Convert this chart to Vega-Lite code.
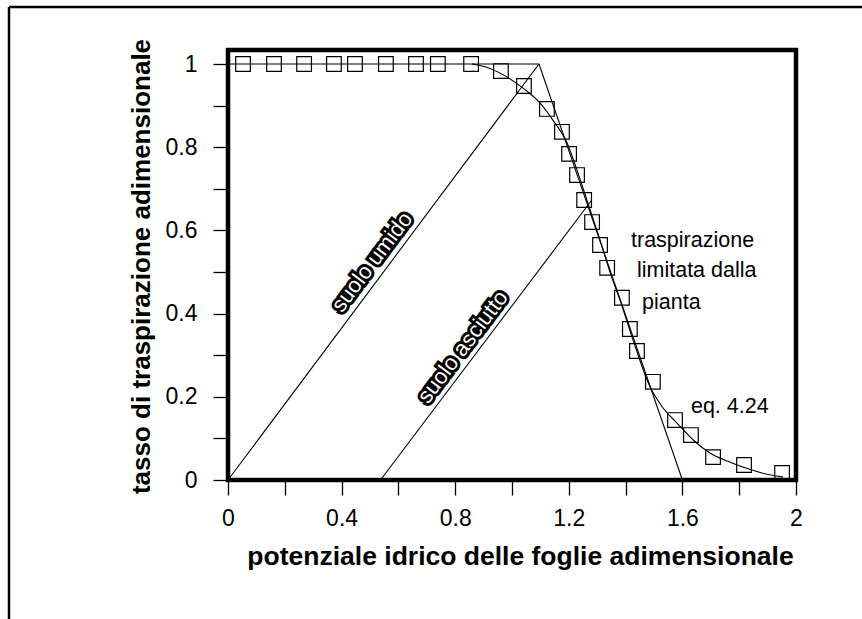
{
  "$schema": "https://vega.github.io/schema/vega-lite/v6.json",
  "width": 862,
  "height": 619,
  "autosize": "none",
  "padding": 0,
  "background": "white",
  "config": {"view": {"stroke": null}, "font": "Liberation Sans"},
  "datasets": {
    "border": [
      {"x": -0.7711, "y": 1.137, "x2": 2.4, "y2": 1.137},
      {"x": -0.7711, "y": 1.137, "x2": -0.7711, "y2": -0.5}
    ],
    "frame": [{"x": 0, "x2": 2, "y": 0, "y2": 1.0337}],
    "segments": [
      {"x": 0, "y": 1, "x2": 1.095, "y2": 1},
      {"x": 1.095, "y": 1, "x2": 1.6, "y2": 0},
      {"x": 0, "y": 0, "x2": 1.095, "y2": 1},
      {"x": 0.537, "y": 0, "x2": 1.281, "y2": 0.673}
    ],
    "curve": [
      {"x": 0.859, "y": 1.0},
      {"x": 0.92, "y": 0.99},
      {"x": 0.982, "y": 0.969},
      {"x": 1.039, "y": 0.942},
      {"x": 1.099, "y": 0.906},
      {"x": 1.144, "y": 0.865},
      {"x": 1.194, "y": 0.81},
      {"x": 1.229, "y": 0.745},
      {"x": 1.27, "y": 0.66},
      {"x": 1.31, "y": 0.577},
      {"x": 1.345, "y": 0.5},
      {"x": 1.38, "y": 0.433},
      {"x": 1.426, "y": 0.337},
      {"x": 1.486, "y": 0.224},
      {"x": 1.53, "y": 0.175},
      {"x": 1.581, "y": 0.137},
      {"x": 1.64, "y": 0.095},
      {"x": 1.697, "y": 0.065},
      {"x": 1.76, "y": 0.045},
      {"x": 1.813, "y": 0.031},
      {"x": 1.88, "y": 0.017},
      {"x": 1.954, "y": 0.007}
    ],
    "points": [
      {"x": 0.053, "y": 1.0},
      {"x": 0.162, "y": 1.0},
      {"x": 0.268, "y": 1.0},
      {"x": 0.373, "y": 1.0},
      {"x": 0.447, "y": 1.0},
      {"x": 0.556, "y": 1.0},
      {"x": 0.662, "y": 1.0},
      {"x": 0.739, "y": 1.0},
      {"x": 0.856, "y": 1.0},
      {"x": 0.961, "y": 0.983},
      {"x": 1.042, "y": 0.947},
      {"x": 1.123, "y": 0.892},
      {"x": 1.176, "y": 0.837},
      {"x": 1.201, "y": 0.784},
      {"x": 1.229, "y": 0.733},
      {"x": 1.254, "y": 0.673},
      {"x": 1.282, "y": 0.62},
      {"x": 1.31, "y": 0.565},
      {"x": 1.335, "y": 0.51},
      {"x": 1.387, "y": 0.438},
      {"x": 1.415, "y": 0.363},
      {"x": 1.44, "y": 0.31},
      {"x": 1.496, "y": 0.236},
      {"x": 1.574, "y": 0.144},
      {"x": 1.63, "y": 0.108},
      {"x": 1.708, "y": 0.055},
      {"x": 1.817, "y": 0.036},
      {"x": 1.951, "y": 0.017}
    ],
    "notes": [
      {"x": 1.419, "y": 0.56, "text": "traspirazione"},
      {"x": 1.44, "y": 0.488, "text": "limitata dalla"},
      {"x": 1.458, "y": 0.411, "text": "pianta"},
      {"x": 1.63, "y": 0.161, "text": "eq. 4.24"}
    ],
    "soil": [
      {"x": 0.507, "y": 0.524, "text": "suolo umido"},
      {"x": 0.827, "y": 0.32, "text": "suolo asciutto"}
    ]
  },
  "encoding": {
    "x": {
      "field": "x",
      "type": "quantitative",
      "scale": {"domain": [-0.80282, 2.23239], "nice": false, "zero": false},
      "axis": {
        "orient": "bottom",
        "offset": -139,
        "values": [0, 0.2, 0.4, 0.6, 0.8, 1, 1.2, 1.4, 1.6, 1.8, 2],
        "format": ".1~f",
        "labelExpr": "indexof(['0','0.4','0.8','1.2','1.6','2'], datum.label) >= 0 ? datum.label : ''",
        "domain": false,
        "grid": false,
        "tickSize": 15,
        "tickColor": "black",
        "tickWidth": 1.3,
        "labelFont": "Liberation Sans",
        "labelFontSize": 23,
        "labelColor": "black",
        "labelPadding": 12,
        "labelFlush": false,
        "labelOverlap": false,
        "title": "potenziale idrico delle foglie adimensionale",
        "titleFont": "Liberation Sans",
        "titleFontSize": 26.5,
        "titleFontWeight": "bold",
        "titleColor": "black",
        "titleX": 520,
        "titleY": 84,
        "titleAlign": "center",
        "titleBaseline": "alphabetic"
      }
    },
    "y": {
      "field": "y",
      "type": "quantitative",
      "scale": {"domain": [-0.33413, 1.15385], "nice": false, "zero": false},
      "axis": {
        "orient": "left",
        "offset": -228,
        "values": [0, 0.1, 0.2, 0.3, 0.4, 0.5, 0.6, 0.7, 0.8, 0.9, 1],
        "format": ".1~f",
        "labelExpr": "indexof(['0','0.2','0.4','0.6','0.8','1'], datum.label) >= 0 ? datum.label : ''",
        "domain": false,
        "grid": false,
        "tickSize": 15,
        "tickColor": "black",
        "tickWidth": 1.3,
        "labelFont": "Liberation Sans",
        "labelFontSize": 23,
        "labelColor": "black",
        "labelPadding": 16,
        "labelFlush": false,
        "labelOverlap": false,
        "title": "tasso di traspirazione adimensionale",
        "titleFont": "Liberation Sans",
        "titleFontSize": 26,
        "titleFontWeight": "bold",
        "titleColor": "black",
        "titleAngle": 270,
        "titleX": -87,
        "titleY": 266,
        "titleAlign": "center",
        "titleBaseline": "middle"
      }
    }
  },
  "layer": [
    {
      "data": {"name": "border"},
      "mark": {"type": "rule", "color": "black", "strokeWidth": 2.5, "clip": true},
      "encoding": {"x2": {"field": "x2"}, "y2": {"field": "y2"}}
    },
    {
      "data": {"name": "segments"},
      "mark": {"type": "rule", "color": "black", "strokeWidth": 1.1},
      "encoding": {"x2": {"field": "x2"}, "y2": {"field": "y2"}}
    },
    {
      "data": {"name": "curve"},
      "mark": {"type": "line", "color": "black", "strokeWidth": 1.1, "interpolate": "monotone"},
      "encoding": {}
    },
    {
      "data": {"name": "points"},
      "mark": {"type": "point", "shape": "square", "filled": false, "size": 215, "stroke": "black", "strokeWidth": 1.2, "opacity": 1},
      "encoding": {}
    },
    {
      "data": {"name": "frame"},
      "mark": {"type": "rect", "filled": false, "fill": null, "stroke": "black", "strokeWidth": 4.5},
      "encoding": {"x2": {"field": "x2"}, "y2": {"field": "y2"}}
    },
    {
      "data": {"name": "notes"},
      "mark": {"type": "text", "font": "Liberation Sans", "fontSize": 21.5, "align": "left", "baseline": "alphabetic", "color": "black"},
      "encoding": {"text": {"field": "text"}}
    },
    {
      "data": {"name": "soil"},
      "mark": {"type": "text", "font": "Liberation Sans", "fontSize": 22, "align": "center", "baseline": "middle", "angle": 307, "fill": "black", "stroke": "black", "strokeWidth": 6, "strokeJoin": "miter"},
      "encoding": {"text": {"field": "text"}}
    },
    {
      "data": {"name": "soil"},
      "mark": {"type": "text", "font": "Liberation Sans", "fontSize": 22, "align": "center", "baseline": "middle", "angle": 307, "fill": "white"},
      "encoding": {"text": {"field": "text"}}
    }
  ]
}
